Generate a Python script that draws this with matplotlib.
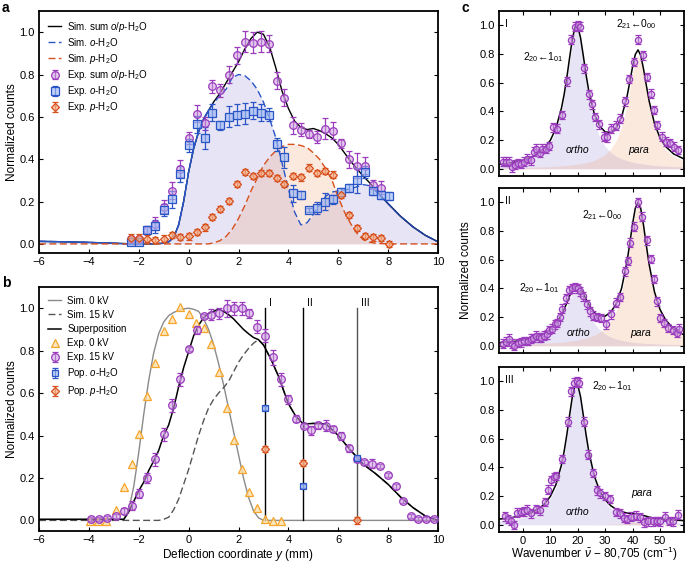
import matplotlib
matplotlib.use("Agg")
import matplotlib.pyplot as plt

plt.rcParams['font.family'] = ['Liberation Sans', 'DejaVu Sans']
plt.rcParams['mathtext.fontset'] = 'custom'
plt.rcParams['mathtext.rm'] = 'Liberation Sans'
plt.rcParams['mathtext.it'] = 'Liberation Sans:italic'
plt.rcParams['font.size'] = 8

# ---------------- panel a data ----------------
xa_exp = [-2.32, -1.98, -1.65, -1.33, -1.0, -0.67, -0.33, 0.0, 0.32, 0.64, 0.95, 1.26, 1.61, 1.94, 2.25, 2.57,
          2.89, 3.21, 3.53, 3.84, 4.18, 4.5, 4.82, 5.14, 5.48, 5.78, 6.1, 6.43, 6.77, 7.09, 7.38, 7.7, 8.03]
a_sum = [0.025, 0.025, 0.065, 0.095, 0.175, 0.25, 0.355, 0.50, 0.615, 0.57, 0.745, 0.725, 0.80, 0.89, 0.955, 0.95,
         0.955, 0.945, 0.77, 0.69, 0.56, 0.54, 0.52, 0.505, 0.545, 0.535, 0.475, 0.40, 0.37, 0.37, 0.28, 0.265]
a_sum_err = [0.01, 0.01, 0.02, 0.03, 0.03, 0.04, 0.04, 0.03, 0.04, 0.03, 0.03, 0.03, 0.04, 0.04, 0.05, 0.05,
             0.05, 0.04, 0.04, 0.04, 0.04, 0.03, 0.02, 0.03, 0.05, 0.04, 0.02, 0.04, 0.06, 0.04, 0.02, 0.03]
a_ortho = [0.01, 0.01, 0.065, 0.083, 0.16, 0.21, 0.33, 0.465, 0.565, 0.50, 0.62, 0.56, 0.60, 0.61, 0.615, 0.63,
           0.62, 0.61, 0.47, 0.41, 0.24, 0.23, 0.16, 0.17, 0.20, 0.21, 0.245, 0.265, 0.30, 0.34, 0.25, 0.23, 0.225]
a_ortho_err = [0.01, 0.01, 0.02, 0.03, 0.03, 0.04, 0.04, 0.03, 0.04, 0.05, 0.04, 0.02, 0.05, 0.05, 0.05, 0.04,
               0.04, 0.03, 0.03, 0.05, 0.04, 0.02, 0.01, 0.03, 0.04, 0.02, 0.02, 0.02, 0.06, 0.03, 0.02, 0.02, 0.02]
a_para = [0.03, 0.03, 0.025, 0.017, 0.025, 0.042, 0.033, 0.035, 0.057, 0.078, 0.127, 0.166, 0.204, 0.283, 0.34, 0.32,
          0.336, 0.334, 0.31, 0.284, 0.32, 0.314, 0.36, 0.334, 0.345, 0.327, 0.232, 0.135, 0.075, 0.036, 0.031, 0.028, 0.0]
a_para_err = [0.015] * 33

xa_sim = [-6, -5, -4, -3, -2.5, -2, -1.5, -1, -0.8, -0.6, -0.4, -0.2, 0, 0.2, 0.4, 0.6, 0.8, 1.0, 1.25, 1.5, 1.75,
          2.0, 2.25, 2.5, 2.75, 3.0, 3.25, 3.5, 3.75, 4.0, 4.25, 4.5, 4.75, 5.0, 5.25, 5.5, 5.75, 6.0, 6.25, 6.5,
          6.75, 7.0, 7.25, 7.5, 8.0, 8.5, 9.0, 9.5, 10]
a_sim_sum = [0.012, 0.01, 0.007, 0.003, 0.001, 0.0, 0.0, 0.003, 0.01, 0.03, 0.09, 0.2, 0.34, 0.45, 0.53, 0.59, 0.63,
             0.67, 0.71, 0.76, 0.81, 0.86, 0.92, 0.97, 1.0, 0.99, 0.93, 0.83, 0.72, 0.64, 0.58, 0.55, 0.54, 0.545,
             0.535, 0.52, 0.5, 0.47, 0.43, 0.39, 0.355, 0.32, 0.29, 0.255, 0.19, 0.13, 0.08, 0.04, 0.01]
a_sim_para = [0.0] * 17 + [0.005, 0.015, 0.035, 0.07, 0.12, 0.18, 0.25, 0.31, 0.37, 0.41, 0.44, 0.46, 0.47, 0.47,
                           0.465, 0.455, 0.43, 0.4, 0.355, 0.3, 0.22, 0.15, 0.095, 0.05, 0.02,
                           0.008, 0.003, 0, 0, 0, 0, 0]
a_sim_ortho = [0.012, 0.01, 0.007, 0.003, 0.001, 0.0, 0.0, 0.003, 0.01, 0.03, 0.09, 0.2, 0.34, 0.45, 0.53, 0.59,
               0.63, 0.665, 0.70, 0.73, 0.785, 0.80, 0.795, 0.77, 0.73, 0.67, 0.59, 0.50, 0.38, 0.26, 0.15, 0.09,
               0.10, 0.14, 0.185, 0.225, 0.245, 0.25, 0.255, 0.26, 0.27, 0.28, 0.275, 0.25, 0.19, 0.13, 0.08, 0.04,
               0.01]

# ---------------- panel b data ----------------
xb_tri = [-3.96, -3.64, -3.32, -2.93, -2.61, -2.29, -1.97, -1.65, -1.33, -1.0, -0.67, -0.33, 0.0, 0.31, 0.62, 0.9,
          1.2, 1.53, 1.83, 2.14, 2.41, 2.73, 3.05, 3.37, 3.69]
b_tri = [-0.005, -0.005, -0.005, 0.05, 0.157, 0.268, 0.406, 0.587, 0.74, 0.893, 0.948, 1.005, 0.973, 0.93, 0.905,
         0.83, 0.70, 0.53, 0.38, 0.24, 0.134, 0.06, 0.008, -0.003, -0.003]
xb_circ = [-3.9, -3.59, -3.27, -2.93, -2.61, -2.29, -1.97, -1.65, -1.33, -1.0, -0.67, -0.33, 0.0, 0.32, 0.62, 0.9,
           1.2, 1.53, 1.83, 2.14, 2.41, 2.73, 3.05, 3.37, 3.69, 3.99, 4.3, 4.61, 4.9, 5.2, 5.5, 5.8, 6.1, 6.43,
           6.74, 7.05, 7.35, 7.66, 7.99, 8.31, 8.61, 8.91, 9.2, 9.53, 9.85]
b_circ = [0.008, 0.006, 0.01, 0.02, 0.044, 0.07, 0.126, 0.2, 0.287, 0.405, 0.543, 0.665, 0.808, 0.898, 0.964, 0.969,
          0.976, 1.0, 1.0, 1.0, 0.976, 0.913, 0.87, 0.768, 0.665, 0.57, 0.48, 0.444, 0.424, 0.448, 0.446, 0.432,
          0.398, 0.339, 0.29, 0.276, 0.268, 0.255, 0.214, 0.16, 0.091, 0.02, 0.008, 0.006, 0.008]
b_circ_err = [0.01, 0.01, 0.01, 0.01, 0.015, 0.02, 0.02, 0.025, 0.03, 0.03, 0.03, 0.03, 0.01, 0.02, 0.01, 0.025,
              0.025, 0.04, 0.03, 0.03, 0.02, 0.03, 0.03, 0.035, 0.03, 0.02, 0.015, 0.01, 0.02, 0.015, 0.025, 0.015,
              0.02, 0.015, 0.015, 0.01, 0.02, 0.01, 0.01, 0.01, 0.01, 0.01, 0.01, 0.01, 0.01]
xb_sim = [-6, -4, -3, -2.6, -2.4, -2.2, -2.0, -1.8, -1.6, -1.4, -1.2, -1.0, -0.8, -0.6, -0.4, -0.2, 0.0, 0.2, 0.4,
          0.6, 0.8, 1.0, 1.2, 1.4, 1.6, 1.8, 2.0, 2.2, 2.4, 2.6, 2.8, 3.0, 3.3, 3.6, 4.0, 4.3, 4.6, 5.0, 5.5, 6.0,
          6.5, 7.0, 7.5, 8.0, 8.5, 9.0, 9.5, 10]
b_sim0 = [0.005, 0.005, 0.005, 0.005, 0.05, 0.16, 0.32, 0.5, 0.66, 0.79, 0.88, 0.935, 0.965, 0.98, 0.99, 0.997, 1.0,
          0.995, 0.985, 0.95, 0.9, 0.83, 0.74, 0.64, 0.53, 0.42, 0.31, 0.2, 0.11, 0.045, 0.012, 0.0, 0, 0, 0, 0,
          0, 0, 0, 0, 0, 0, 0, 0, 0, 0, 0, 0]
b_sim15 = [0, 0, 0, 0, 0, 0, 0, 0, 0, 0, 0, 0.005, 0.015, 0.05, 0.1, 0.17, 0.24, 0.32, 0.4, 0.47, 0.53, 0.57, 0.6,
           0.625, 0.655, 0.7, 0.745, 0.78, 0.81, 0.835, 0.852, 0.827, 0.76, 0.68, 0.55, 0.49, 0.454, 0.457, 0.455,
           0.4, 0.33, 0.265, 0.22, 0.17, 0.11, 0.06, 0.02, 0.0]
b_super = [0.005, 0.005, 0.005, 0.005, 0.04, 0.09, 0.14, 0.18, 0.235, 0.28, 0.33, 0.4, 0.45, 0.53, 0.63, 0.72, 0.795,
           0.87, 0.92, 0.955, 0.975, 0.985, 0.995, 0.985, 0.97, 0.95, 0.925, 0.9, 0.88, 0.862, 0.852, 0.827, 0.76,
           0.68, 0.55, 0.49, 0.454, 0.457, 0.455, 0.4, 0.33, 0.265, 0.22, 0.17, 0.11, 0.06, 0.02, 0.0]
pop_x = [3.05, 4.58, 6.74]
pop_ortho = [0.528, 0.162, 0.295]
pop_para = [0.335, 0.271, 0.0]
pop_labels = ['I', 'II', 'III']

# ---------------- panel c data ----------------
xc = [-9, -6, -3, 0, 3, 6, 8, 10, 12, 14, 15, 16, 17, 18, 19, 19.5, 20, 21, 22, 23, 24, 26, 28, 30, 32, 34, 36,
      38, 39, 40, 41, 42, 43, 44, 45, 46, 48, 50, 52, 55, 59]
c1_ortho = [0.024, 0.031, 0.039, 0.051, 0.07, 0.101, 0.134, 0.184, 0.265, 0.4, 0.496, 0.614, 0.749, 0.877, 0.958,
            0.97, 0.958, 0.877, 0.749, 0.614, 0.496, 0.324, 0.22, 0.156, 0.115, 0.088, 0.07, 0.056, 0.051, 0.047,
            0.043, 0.039, 0.036, 0.033, 0.031, 0.028, 0.024, 0.021, 0.019, 0.016, 0.013]
c1_para = [0.006, 0.007, 0.008, 0.009, 0.011, 0.013, 0.014, 0.016, 0.018, 0.021, 0.022, 0.024, 0.026, 0.028, 0.03,
           0.032, 0.033, 0.036, 0.04, 0.043, 0.048, 0.06, 0.077, 0.101, 0.138, 0.196, 0.292, 0.45, 0.555, 0.664,
           0.754, 0.79, 0.754, 0.664, 0.555, 0.45, 0.292, 0.196, 0.138, 0.088, 0.054]
c1_fit = [0.03, 0.038, 0.047, 0.06, 0.081, 0.114, 0.148, 0.2, 0.283, 0.421, 0.518, 0.638, 0.775, 0.905, 0.988,
          1.002, 0.991, 0.913, 0.789, 0.657, 0.544, 0.384, 0.297, 0.257, 0.253, 0.284, 0.362, 0.506, 0.606, 0.711,
          0.797, 0.829, 0.79, 0.697, 0.586, 0.478, 0.316, 0.217, 0.157, 0.104, 0.067]
c2_ortho = [0.014, 0.017, 0.021, 0.028, 0.038, 0.054, 0.071, 0.095, 0.133, 0.19, 0.228, 0.271, 0.315, 0.354, 0.377,
            0.38, 0.377, 0.354, 0.315, 0.271, 0.228, 0.158, 0.112, 0.082, 0.062, 0.048, 0.038, 0.031, 0.028, 0.025,
            0.023, 0.021, 0.02, 0.018, 0.017, 0.016, 0.014, 0.012, 0.011, 0.009, 0.007]
c2_para = [0.008, 0.009, 0.01, 0.012, 0.013, 0.016, 0.018, 0.02, 0.023, 0.025, 0.027, 0.029, 0.032, 0.034, 0.037,
           0.039, 0.041, 0.045, 0.049, 0.054, 0.06, 0.074, 0.095, 0.125, 0.172, 0.243, 0.363, 0.558, 0.688, 0.824,
           0.936, 0.98, 0.936, 0.824, 0.688, 0.558, 0.363, 0.243, 0.172, 0.109, 0.067]
c2_fit = [0.022, 0.026, 0.031, 0.04, 0.051, 0.07, 0.089, 0.115, 0.156, 0.215, 0.255, 0.3, 0.347, 0.388, 0.414,
          0.419, 0.418, 0.399, 0.364, 0.325, 0.288, 0.232, 0.207, 0.207, 0.234, 0.291, 0.401, 0.589, 0.716, 0.849,
          0.959, 1.001, 0.956, 0.842, 0.705, 0.574, 0.377, 0.255, 0.183, 0.118, 0.074]
c3_ortho = c1_ortho
c3_para = [0.0, 0.0, 0.0, 0.0, 0.0, 0.0, 0.0, 0.0, 0.0, 0.001, 0.001, 0.001, 0.001, 0.001, 0.001, 0.001, 0.001,
           0.001, 0.001, 0.001, 0.001, 0.002, 0.002, 0.003, 0.004, 0.005, 0.007, 0.011, 0.014, 0.017, 0.019, 0.02,
           0.019, 0.017, 0.014, 0.011, 0.007, 0.005, 0.004, 0.002, 0.001]
c3_fit = [0.039, 0.046, 0.054, 0.066, 0.085, 0.116, 0.149, 0.199, 0.28, 0.416, 0.512, 0.63, 0.765, 0.893, 0.974,
          0.986, 0.974, 0.893, 0.765, 0.63, 0.512, 0.341, 0.237, 0.174, 0.134, 0.108, 0.092, 0.082, 0.08, 0.079,
          0.077, 0.074, 0.07, 0.065, 0.06, 0.054, 0.046, 0.041, 0.038, 0.033, 0.029]

x1 = [-7.3, -6.2, -5.2, -4.1, -3.0, -1.8, -0.6, 0.5, 1.6, 2.8, 4.0, 4.9, 6.1, 7.0, 8.3, 9.5, 11.0, 12.4, 14.2, 15.9,
      17.5, 18.9, 19.9, 20.9, 22.4, 24.0, 25.1, 26.1, 27.7, 29.4, 30.6, 32.2, 33.8, 35.5, 37.1, 38.6, 40.4, 42.0,
      43.9, 45.3, 46.9, 47.8, 48.8, 50.6, 52.2, 53.7, 55.1, 56.7]
y1 = [0.05, 0.05, 0.05, 0.01, 0.03, 0.04, 0.035, 0.05, 0.07, 0.06, 0.12, 0.14, 0.11, 0.14, 0.14, 0.16, 0.29, 0.28,
      0.375, 0.61, 0.9, 0.99, 1.0, 0.99, 0.7, 0.52, 0.45, 0.36, 0.31, 0.225, 0.22, 0.28, 0.30, 0.35, 0.47, 0.625,
      0.745, 0.90, 0.79, 0.64, 0.525, 0.41, 0.305, 0.225, 0.19, 0.18, 0.155, 0.13]
x2 = [-7.3, -6.3, -5.2, -4.2, -3.2, -1.8, -0.6, 0.4, 1.8, 2.8, 3.8, 4.9, 5.8, 6.7, 7.8, 8.6, 9.6, 10.6, 11.6, 12.5,
      13.4, 14.4, 15.7, 16.9, 18.0, 19.0, 20.0, 20.8, 21.8, 23.3, 24.5, 25.7, 27.0, 28.6, 30.4, 32.2, 33.8, 35.3,
      37.1, 38.4, 39.2, 40.4, 42.0, 43.6, 45.1, 46.6, 47.8, 48.8, 50.0, 51.5, 53.0, 54.7, 56.1, 56.8]
y2 = [0.015, 0.03, 0.05, 0.015, 0.0, 0.02, 0.025, 0.035, 0.035, 0.05, 0.055, 0.07, 0.06, 0.056, 0.07, 0.08, 0.11,
      0.12, 0.15, 0.16, 0.2, 0.26, 0.33, 0.39, 0.40, 0.41, 0.40, 0.38, 0.345, 0.29, 0.24, 0.21, 0.20, 0.195, 0.15,
      0.22, 0.30, 0.34, 0.52, 0.59, 0.72, 0.83, 1.0, 0.90, 0.735, 0.605, 0.465, 0.31, 0.195, 0.16, 0.125, 0.11,
      0.09, 0.12]
x3 = [-6.7, -5.5, -4.3, -3.4, -2.1, -0.9, 0.4, 1.6, 3.0, 4.6, 6.1, 7.9, 9.2, 10.2, 11.2, 12.2, 14.2, 16.3, 17.5,
      18.6, 19.6, 20.3, 22.4, 23.9, 25.5, 27.0, 28.2, 29.8, 31.6, 33.8, 35.3, 36.9, 38.0, 39.6, 41.2, 42.6, 44.1,
      45.7, 47.3, 48.8, 50.0, 51.8, 53.4, 54.9, 56.7]
y3 = [0.06, 0.04, 0.026, 0.0, 0.085, 0.09, 0.094, 0.105, 0.08, 0.11, 0.10, 0.16, 0.245, 0.31, 0.33, 0.34, 0.46, 0.72,
      0.93, 0.99, 1.0, 0.99, 0.72, 0.49, 0.36, 0.24, 0.22, 0.2, 0.18, 0.09, 0.08, 0.05, 0.04, 0.057, 0.064, 0.052,
      0.017, 0.024, 0.024, 0.028, 0.024, 0.057, 0.028, 0.024, 0.071]

# ---------------- styles ----------------
PURPLE = '#9a3cbd'
PURPLE_F = (0.80, 0.62, 0.88, 0.55)
BLUE = '#2a55c6'
BLUE_F = (0.62, 0.72, 0.95, 0.65)
ORANGE = '#d6501c'
ORANGE_F = (0.96, 0.68, 0.52, 0.7)
YELLOW = '#f5a52a'
YELLOW_F = (0.99, 0.88, 0.68, 0.8)
LAV = '#6a5acd'
PEACH = '#f08a4b'

fig = plt.figure(figsize=(6.85, 5.65), dpi=100)
W, H = 685, 565


def add_ax(l, t, r, b):
    return fig.add_axes([l / W, 1 - b / H, (r - l) / W, (b - t) / H])


def style(ax, top=False):
    ax.tick_params(direction='in', length=3, width=0.8, right=True, top=top, labelsize=8, pad=3)
    for s in ax.spines.values():
        s.set_linewidth(1.3)


def exp(ax, x, y, e, fmt, ec, fc, ms):
    return ax.errorbar(x, y, yerr=e, fmt=fmt, ms=ms, mec=ec, mfc=fc, ecolor=ec, mew=0.9,
                       elinewidth=0.9, capsize=2, capthick=0.9, zorder=4)


TICKS_X = ['\u22126', '\u22124', '\u22122', '0', '2', '4', '6', '8', '10']

# ---------------- panel a ----------------
ax = add_ax(39, 11, 438, 253)
ax.fill_between(xa_sim, 0, a_sim_ortho, color=LAV, alpha=0.16, lw=0)
ax.fill_between(xa_sim, 0, a_sim_para, color=PEACH, alpha=0.18, lw=0)
l_sum, = ax.plot(xa_sim, a_sim_sum, color='k', lw=1.0)
l_o, = ax.plot(xa_sim, a_sim_ortho, color=BLUE, lw=1.0, ls=(0, (5, 2.5)))
ax.plot(xa_sim[:17], a_sim_ortho[:17], color=BLUE, lw=1.0)
ax.plot(xa_sim[43:], a_sim_ortho[43:], color='#1f3f9a', lw=1.0)
l_p, = ax.plot(xa_sim, a_sim_para, color=ORANGE, lw=1.0, ls=(0, (5, 2.5)))
e_sum = exp(ax, xa_exp[:32], a_sum, a_sum_err, 'o', PURPLE, PURPLE_F, 5.5)
e_o = exp(ax, xa_exp, a_ortho, a_ortho_err, 's', BLUE, BLUE_F, 5.5)
e_p = exp(ax, xa_exp, a_para, a_para_err, 'D', ORANGE, ORANGE_F, 4)
ax.set_xlim(-6, 10)
ax.set_ylim(-0.043, 1.1)
ax.set_xticks(range(-6, 11, 2))
ax.set_yticks([0, 0.2, 0.4, 0.6, 0.8, 1.0])
ax.set_xticklabels(TICKS_X)
style(ax)
ax.legend([l_sum, l_o, l_p, e_sum, e_o, e_p],
          [r'Sim. sum $o$/$p$-H$_2$O', r'Sim. $o$-H$_2$O', r'Sim. $p$-H$_2$O',
           r'Exp. sum $o$/$p$-H$_2$O', r'Exp. $o$-H$_2$O', r'Exp. $p$-H$_2$O'],
          loc='upper left', frameon=False, fontsize=7, handlelength=1.4, labelspacing=0.22,
          borderaxespad=0.5, handletextpad=0.6)

# ---------------- panel b ----------------
ax = add_ax(39, 287, 438, 531)
l0, = ax.plot(xb_sim, b_sim0, color='#8a8a8a', lw=1.0)
l15, = ax.plot(xb_sim, b_sim15, color='#555555', lw=1.0, ls=(0, (5, 2.5)))
lsup, = ax.plot(xb_sim, b_super, color='k', lw=1.1)
for i in range(3):
    ax.plot([pop_x[i], pop_x[i]], [0, 1.0], color='k' if i < 2 else '#555555', lw=1.0, zorder=2)
    ax.text(pop_x[i] + 0.17, 1.0, pop_labels[i], fontsize=7.5, ha='left', va='bottom')
tri, = ax.plot(xb_tri, b_tri, '^', ms=6, mec=YELLOW, mfc=YELLOW_F, mew=0.9, ls='none', zorder=3)
e15 = exp(ax, xb_circ, b_circ, b_circ_err, 'o', PURPLE, PURPLE_F, 5.5)
epo = exp(ax, pop_x, pop_ortho, [0.01] * 3, 's', BLUE, BLUE_F, 5)
epp = exp(ax, pop_x, pop_para, [0.015] * 3, 'D', ORANGE, ORANGE_F, 4)
ax.set_xlim(-6, 10)
ax.set_ylim(-0.05, 1.1)
ax.set_xticks(range(-6, 11, 2))
ax.set_yticks([0, 0.2, 0.4, 0.6, 0.8, 1.0])
ax.set_xticklabels(TICKS_X)
style(ax)
ax.legend([l0, l15, lsup, tri, e15, epo, epp],
          ['Sim. 0 kV', 'Sim. 15 kV', 'Superposition', 'Exp. 0 kV', 'Exp. 15 kV',
           r'Pop. $o$-H$_2$O', r'Pop. $p$-H$_2$O'],
          loc='upper left', frameon=False, fontsize=7, handlelength=1.4, labelspacing=0.42,
          borderaxespad=0.5, handletextpad=0.6)

# ---------------- panel c ----------------
rows = [(11, 176), (188, 353), (367, 532)]
c_ortho = [c1_ortho, c2_ortho, c3_ortho]
c_para = [c1_para, c2_para, c3_para]
c_fit = [c1_fit, c2_fit, c3_fit]
c_x = [x1, x2, x3]
c_y = [y1, y2, y3]
roman = ['I', 'II', 'III']
T20 = '2$_{20}$\u21901$_{01}$'
T21 = '2$_{21}$\u21900$_{00}$'
for k in range(3):
    ax = add_ax(499, rows[k][0], 684, rows[k][1])
    ax.fill_between(xc, 0, c_ortho[k], color=LAV, alpha=0.16, lw=0)
    ax.fill_between(xc, 0, c_para[k], color=PEACH, alpha=0.18, lw=0)
    ax.plot(xc, c_fit[k], color='k', lw=1.1, zorder=3)
    exp(ax, c_x[k], c_y[k], [0.03] * len(c_x[k]), 'o', PURPLE, PURPLE_F, 4.5)
    ax.set_xlim(-8.8, 58.8)
    ax.set_ylim(-0.05, 1.1)
    ax.set_xticks(range(0, 51, 10))
    ax.set_yticks([0, 0.2, 0.4, 0.6, 0.8, 1.0])
    style(ax, top=True)
    if k < 2:
        ax.set_xticklabels([])
    ax.text(0.035, 0.95, roman[k], transform=ax.transAxes, fontsize=7.5, ha='left', va='top')
    if k == 0:
        ax.text(0, 0.78, T20, fontsize=7.5, va='center')
        ax.text(34, 1.01, T21, fontsize=7.5, va='center')
        ax.text(19.7, 0.13, 'ortho', style='italic', ha='center', va='center', fontsize=7.5)
        ax.text(42.4, 0.13, 'para', style='italic', ha='center', va='center', fontsize=7.5)
    elif k == 1:
        ax.text(21.6, 0.91, T21, fontsize=7.5, va='center')
        ax.text(-1.5, 0.40, T20, fontsize=7.5, va='center')
        ax.text(20.4, 0.09, 'ortho', style='italic', ha='center', va='center', fontsize=7.5)
        ax.text(43, 0.09, 'para', style='italic', ha='center', va='center', fontsize=7.5)
    else:
        ax.text(25, 0.97, T20, fontsize=7.5, va='center')
        ax.text(19.7, 0.09, 'ortho', style='italic', ha='center', va='center', fontsize=7.5)
        ax.text(43.5, 0.22, 'para', style='italic', ha='center', va='center', fontsize=7.5)

# labels
fig.text(238 / W, 1 - 555 / H, r'Deflection coordinate $y$ (mm)', ha='center', va='center', fontsize=8.5)
fig.text(594 / W, 1 - 554 / H, 'Wavenumber $\\bar{\\nu}$ \u2212 80,705 (cm$^{-1}$)', ha='center', va='center',
         fontsize=8.5)
fig.text(12 / W, 1 - 132 / H, 'Normalized counts', rotation=90, ha='center', va='center', fontsize=8.5)
fig.text(12 / W, 1 - 409 / H, 'Normalized counts', rotation=90, ha='center', va='center', fontsize=8.5)
fig.text(466 / W, 1 - 270 / H, 'Normalized counts', rotation=90, ha='center', va='center', fontsize=8.5)
fig.text(2 / W, 1 - 8 / H, 'a', fontsize=10, fontweight='bold', va='center')
fig.text(2 / W, 1 - 283 / H, 'b', fontsize=10, fontweight='bold', va='center')
fig.text(461 / W, 1 - 8 / H, 'c', fontsize=10, fontweight='bold', va='center')

fig.savefig('out.png', dpi=100)
